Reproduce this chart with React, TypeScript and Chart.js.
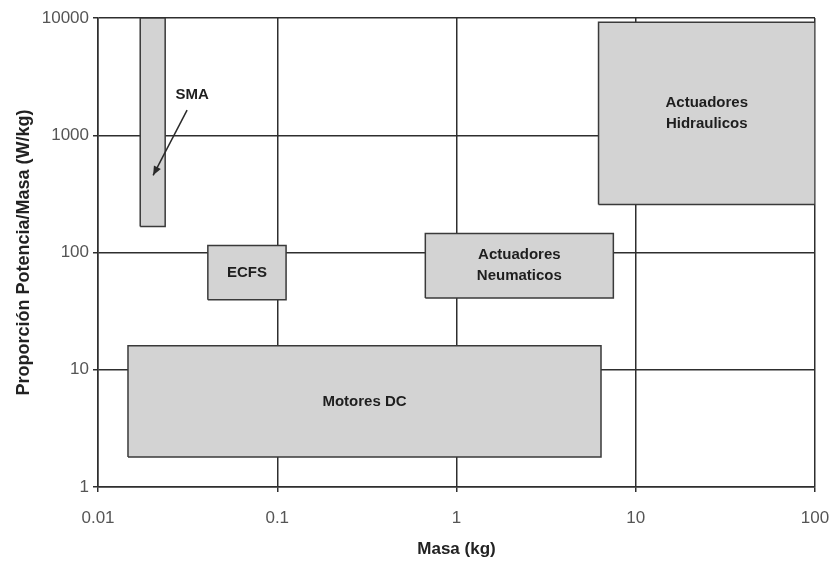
import React, { useEffect, useRef } from "react";
import { Chart, registerables } from "chart.js";

Chart.register(...registerables);

// ---- data ----
const xTickValues = [0.01, 0.1, 1, 10, 100];
const xTickLabels = ["0.01", "0.1", "1", "10", "100"];
const yTickValues = [1, 10, 100, 1000, 10000];
const yTickLabels = ["1", "10", "100", "1000", "10000"];

const technologies = ["SMA", "ECFS", "Actuadores Neumaticos", "Actuadores Hidraulicos", "Motores DC"];
const boxText = [[], ["ECFS"], ["Actuadores", "Neumaticos"], ["Actuadores", "Hidraulicos"], ["Motores DC"]];
const massMin = [0.0172, 0.041, 0.67, 6.2, 0.0147];
const massMax = [0.0237, 0.112, 7.5, 100, 6.4];
const ratioMin = [167, 39.6, 41, 257, 1.8];
const ratioMax = [10000, 115, 145, 9200, 16];

const smaNote = "SMA";
const smaNotePoint = [0.0335, 2200];
const smaArrowFrom = [0.0314, 1637];
const smaArrowTo = [0.0203, 455];

const xTitle = "Masa (kg)";
const yTitle = "Proporción Potencia/Masa (W/kg)";

const FONT = "'Liberation Sans', Arial, sans-serif";

const labelsPlugin = {
  id: "boxLabels",
  afterDatasetsDraw(chart: any) {
    const { ctx, scales } = chart;
    const xs = scales.x;
    const ys = scales.y;
    ctx.save();
    ctx.fillStyle = "#1e1e1e";
    ctx.font = `bold 15px ${FONT}`;
    ctx.textAlign = "center";
    ctx.textBaseline = "middle";
    boxText.forEach((lines, i) => {
      if (!lines.length) return;
      const cx = (xs.getPixelForValue(massMin[i]) + xs.getPixelForValue(massMax[i])) / 2;
      const cy = (ys.getPixelForValue(ratioMin[i]) + ys.getPixelForValue(ratioMax[i])) / 2;
      const lh = 21;
      const start = cy - ((lines.length - 1) * lh) / 2;
      lines.forEach((t, j) => ctx.fillText(t, cx, start + j * lh));
    });
    // SMA annotation
    ctx.fillText(smaNote, xs.getPixelForValue(smaNotePoint[0]), ys.getPixelForValue(smaNotePoint[1]));
    const x1 = xs.getPixelForValue(smaArrowFrom[0]);
    const y1 = ys.getPixelForValue(smaArrowFrom[1]);
    const x2 = xs.getPixelForValue(smaArrowTo[0]);
    const y2 = ys.getPixelForValue(smaArrowTo[1]);
    ctx.strokeStyle = "#2a2a2a";
    ctx.lineWidth = 1.5;
    ctx.beginPath();
    ctx.moveTo(x1, y1);
    ctx.lineTo(x2, y2);
    ctx.stroke();
    const ang = Math.atan2(y2 - y1, x2 - x1);
    const len = 10;
    ctx.beginPath();
    ctx.moveTo(x2, y2);
    ctx.lineTo(x2 - len * Math.cos(ang - 0.4), y2 - len * Math.sin(ang - 0.4));
    ctx.lineTo(x2 - len * Math.cos(ang + 0.4), y2 - len * Math.sin(ang + 0.4));
    ctx.closePath();
    ctx.fillStyle = "#2a2a2a";
    ctx.fill();
    ctx.restore();
  },
};

export default function App() {
  const ref = useRef<HTMLCanvasElement | null>(null);

  useEffect(() => {
    if (!ref.current) return;
    const datasets = technologies.map((name, i) => ({
      label: name,
      data: [
        { x: massMin[i], y: ratioMin[i] },
        { x: massMax[i], y: ratioMin[i] },
        { x: massMax[i], y: ratioMax[i] },
        { x: massMin[i], y: ratioMax[i] },
        { x: massMin[i], y: ratioMin[i] },
      ],
      showLine: true,
      fill: "shape",
      backgroundColor: "#d3d3d3",
      borderColor: "#3a3a3a",
      borderWidth: 1.5,
      pointRadius: 0,
      tension: 0,
    }));

    const gridCfg = { color: "#2e2e2e", lineWidth: 1.5, tickLength: 5, drawTicks: true };
    const chart = new Chart(ref.current, {
      type: "scatter",
      data: { datasets: datasets as any },
      options: {
        animation: false,
        responsive: false,
        events: [],
        layout: { padding: { top: 18, right: 19, left: 0, bottom: 0 } },
        plugins: { legend: { display: false }, tooltip: { enabled: false } },
        scales: {
          x: {
            type: "logarithmic",
            min: 0.01,
            max: 100,
            afterBuildTicks: (s: any) => {
              s.ticks = xTickValues.map((v) => ({ value: v }));
            },
            afterFit: (s: any) => {
              s.height = 76;
              s.paddingLeft = 0;
              s.paddingRight = 0;
            },
            ticks: {
              autoSkip: false,
              maxRotation: 0,
              padding: 16,
              color: "#555",
              font: { family: FONT, size: 17 },
              callback: (_v: any, i: number) => xTickLabels[i],
            },
            grid: gridCfg,
            border: { color: "#2e2e2e", width: 1.5 },
            title: {
              display: true,
              text: xTitle,
              color: "#222",
              font: { family: FONT, size: 17, weight: "bold" },
              padding: { top: 0, bottom: 3 },
            },
          },
          y: {
            type: "logarithmic",
            min: 1,
            max: 10000,
            afterBuildTicks: (s: any) => {
              s.ticks = yTickValues.map((v) => ({ value: v }));
            },
            afterFit: (s: any) => {
              s.width = 98;
              s.paddingTop = 0;
              s.paddingBottom = 0;
            },
            ticks: {
              autoSkip: false,
              padding: 4,
              color: "#555",
              font: { family: FONT, size: 17 },
              callback: (_v: any, i: number) => yTickLabels[i],
            },
            grid: gridCfg,
            border: { color: "#2e2e2e", width: 1.5 },
            title: {
              display: true,
              text: yTitle,
              color: "#222",
              font: { family: FONT, size: 18, weight: "bold" },
              padding: { top: 13, bottom: 0 },
            },
          },
        },
      } as any,
      plugins: [labelsPlugin],
    });
    return () => chart.destroy();
  }, []);

  return (
    <div style={{ position: "absolute", left: 0, top: 0, width: 834, height: 563, background: "#fff" }}>
      <canvas ref={ref} width={834} height={563} style={{ display: "block" }} />
    </div>
  );
}
